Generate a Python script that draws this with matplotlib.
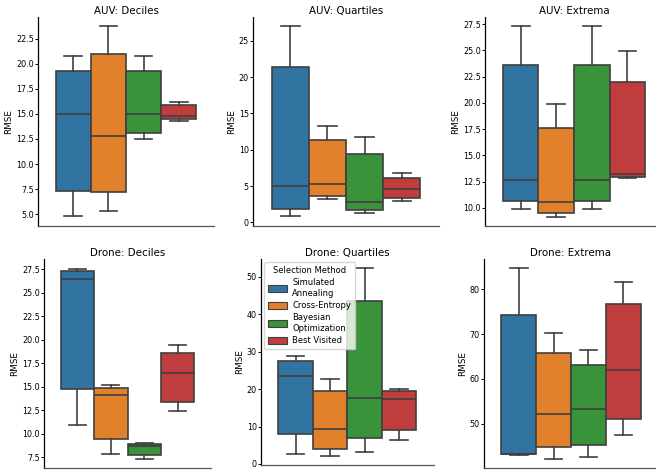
import colorsys
import matplotlib
matplotlib.use("Agg")
import matplotlib.pyplot as plt
import matplotlib.colors as mcolors
from matplotlib.patches import Patch

plt.rcParams['font.family'] = ['DejaVu Sans']

methods = ["Simulated\nAnnealing", "Cross-Entropy", "Bayesian\nOptimization", "Best Visited"]
titles = ["AUV: Deciles", "AUV: Quartiles", "AUV: Extrema",
          "Drone: Deciles", "Drone: Quartiles", "Drone: Extrema"]

# each row: [whisker low, Q1, median, Q3, whisker high] per method
auv_deciles = [[4.77, 7.32, 15.03, 19.30, 20.73],
               [5.33, 7.22, 12.80, 21.00, 23.70],
               [12.52, 13.11, 15.03, 19.30, 20.73],
               [14.30, 14.44, 14.77, 15.83, 16.16]]
auv_quartiles = [[0.82, 1.88, 4.95, 21.43, 26.97],
                 [3.21, 3.71, 5.27, 11.31, 13.32],
                 [1.37, 1.69, 2.79, 9.48, 11.77],
                 [2.98, 3.39, 4.58, 6.18, 6.78]]
auv_extrema = [[9.90, 10.60, 12.67, 23.58, 27.27],
               [9.17, 9.46, 10.51, 17.57, 19.89],
               [9.90, 10.60, 12.67, 23.58, 27.27],
               [12.80, 12.89, 13.18, 21.96, 24.89]]
drone_deciles = [[10.90, 14.80, 26.50, 27.32, 27.57],
                 [7.89, 9.45, 14.10, 14.84, 15.16],
                 [7.36, 7.71, 8.74, 8.95, 8.99],
                 [12.43, 13.42, 16.50, 18.60, 19.38]]
drone_quartiles = [[2.67, 7.93, 23.44, 27.45, 28.90],
                   [2.23, 4.10, 9.36, 19.43, 22.70],
                   [3.30, 6.95, 17.65, 43.67, 52.30],
                   [6.50, 9.18, 17.38, 19.43, 19.96]]
drone_extrema = [[43.10, 43.30, 43.40, 74.30, 84.60],
                 [42.30, 44.80, 52.30, 65.70, 70.15],
                 [42.67, 45.33, 53.26, 63.10, 66.40],
                 [47.48, 51.10, 62.00, 76.74, 81.70]]
panels = [auv_deciles, auv_quartiles, auv_extrema,
          drone_deciles, drone_quartiles, drone_extrema]

def desat(c, prop=0.75):
    r, g, b = mcolors.to_rgb(c)
    h, l, s = colorsys.rgb_to_hls(r, g, b)
    return colorsys.hls_to_rgb(h, l, s * prop)

colors = [desat(c) for c in ["#1f77b4", "#ff7f0e", "#2ca02c", "#d62728"]]
line_gray = "#3f3f3f"

W, H = 656, 474
fig = plt.figure(figsize=(W / 100, H / 100), dpi=100)

# pixel rectangles: left, top, width, bottom
rects = [(38, 17, 176, 226), (253, 17, 186, 226), (485, 17, 178, 226),
         (44, 259, 167, 468), (261, 259, 172.5, 465), (484, 259, 174, 468)]

positions = [-0.3, -0.1, 0.1, 0.3]
lw = 1.2
for idx, (data, title, (l, t, w, b)) in enumerate(zip(panels, titles, rects)):
    ax = fig.add_axes([l / W, (H - b) / H, w / W, (b - t) / H])
    stats = []
    for row in data:
        stats.append(dict(whislo=row[0], q1=row[1], med=row[2], q3=row[3], whishi=row[4]))
    bp = ax.bxp(stats, positions=positions, widths=0.2, capwidths=0.1,
                patch_artist=True, showfliers=False,
                boxprops=dict(edgecolor=line_gray, linewidth=lw),
                whiskerprops=dict(color=line_gray, linewidth=lw),
                capprops=dict(color=line_gray, linewidth=lw),
                medianprops=dict(color=line_gray, linewidth=lw))
    for patch, c in zip(bp['boxes'], colors):
        patch.set_facecolor(c)
    ax.set_xlim(-0.5, 0.5)
    ax.set_xticks([])
    ax.spines['top'].set_visible(False)
    ax.spines['right'].set_visible(False)
    ax.spines['left'].set_linewidth(0.9)
    ax.spines['bottom'].set_linewidth(0.9)
    ax.spines['bottom'].set_color('#555555')
    ax.tick_params(axis='y', labelsize=5.8, length=2, width=0.7, pad=1)
    ax.set_ylabel("RMSE", fontsize=6.4, labelpad=2)
    ax.set_title(title, fontsize=7.4, pad=2)
    if idx == 4:
        handles = [Patch(facecolor=c, edgecolor=line_gray, linewidth=0.8) for c in colors]
        leg = ax.legend(handles, methods, title="Selection Method", loc="upper left",
                        fontsize=6.0, title_fontsize=6.0, borderaxespad=0.35,
                        handlelength=2.3, handleheight=0.9, labelspacing=0.4,
                        handletextpad=0.6, borderpad=0.5)

fig.savefig("out.png", dpi=100)
